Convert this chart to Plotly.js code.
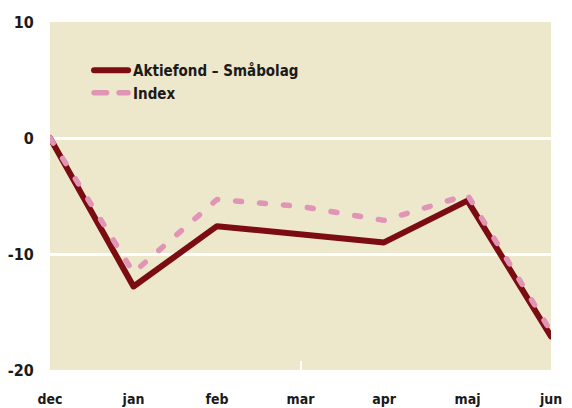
<!DOCTYPE html>
<html><head><meta charset="utf-8">
<script src="https://cdn.plot.ly/plotly-3.0.1.min.js"></script>
<style>
html,body{margin:0;padding:0;background:#fff}
.js-line, .legendlines path {stroke-linecap: round !important; stroke-linejoin: round !important;}
.legendlines path[style*="dasharray"] {stroke-dasharray: 12.5px,12.5px !important;}
</style></head><body><div id="chart" style="width:572px;height:408px"></div>
<script>
const months = ['dec','jan','feb','mar','apr','maj','jun'];
const aktiefond = [0, -12.8, -7.6, -8.3, -9.0, -5.4, -17.1];
const indexValues = [0, -11.6, -5.3, -5.9, -7.1, -4.9, -16.7];
const seriesNames = ['Aktiefond – Småbolag', 'Index'];
const yTickValues = [-20, -10, 0, 10];
const yTickLabels = ['-20', '-10', '0', '10'];
const gridValues = [-10, 0];
const midTick = ['mar'];

const FONT = 'DejaVu Sans Condensed, Liberation Sans Narrow, sans-serif';

const traces = [
  {x: months, y: aktiefond, name: seriesNames[0], type: 'scatter', mode: 'lines',
   line: {color: '#7a0c12', width: 6}, cliponaxis: false, xaxis: 'x', yaxis: 'y'},
  {x: months, y: indexValues, name: seriesNames[1], type: 'scatter', mode: 'lines',
   line: {color: '#e094b6', width: 5.5, dash: '6px,18px'}, cliponaxis: false, xaxis: 'x2', yaxis: 'y2'}
];

const layout = {
  width: 572, height: 408,
  margin: {l: 50, r: 21, t: 22, b: 38},
  paper_bgcolor: '#ffffff', plot_bgcolor: '#ede7cc',
  font: {family: FONT, size: 15, color: '#1a1a1a', weight: 'bold'},
  showlegend: true,
  legend: {x: 0.078, y: 0.908, xanchor: 'left', yanchor: 'top', bgcolor: 'rgba(0,0,0,0)',
           font: {family: FONT, size: 15, color: '#1a1a1a', weight: 'bold'}, itemwidth: 34, tracegroupgap: 0},
  xaxis: {type: 'category', categoryarray: months, range: [0, 6], showgrid: false, zeroline: false,
          showline: false, ticks: 'outside', ticklen: 16, tickcolor: 'rgba(0,0,0,0)',
          tickfont: {family: FONT, size: 14, color: '#1a1a1a', weight: 'bold'}},
  xaxis2: {type: 'category', categoryarray: months, range: [0, 6], overlaying: 'x', anchor: 'y2',
           showgrid: false, zeroline: false, showticklabels: false, ticks: 'inside',
           tickmode: 'array', tickvals: midTick, ticklen: 9, tickwidth: 2, tickcolor: '#ffffff'},
  yaxis: {range: [-20, 10], tickmode: 'array', tickvals: yTickValues, ticktext: yTickLabels,
          showgrid: false, zeroline: false,
          showline: false, ticks: 'outside', ticklen: 12, tickcolor: 'rgba(0,0,0,0)',
          tickfont: {family: FONT, size: 16, color: '#1a1a1a', weight: 'bold'}},
  yaxis2: {range: [-20, 10], overlaying: 'y', anchor: 'x2', tickmode: 'array', tickvals: gridValues,
           showgrid: true, gridcolor: '#ffffff', gridwidth: 3, zeroline: false, showticklabels: false, ticks: ''}
};

Plotly.newPlot('chart', traces, layout, {displayModeBar: false, staticPlot: true});
</script></body></html>
